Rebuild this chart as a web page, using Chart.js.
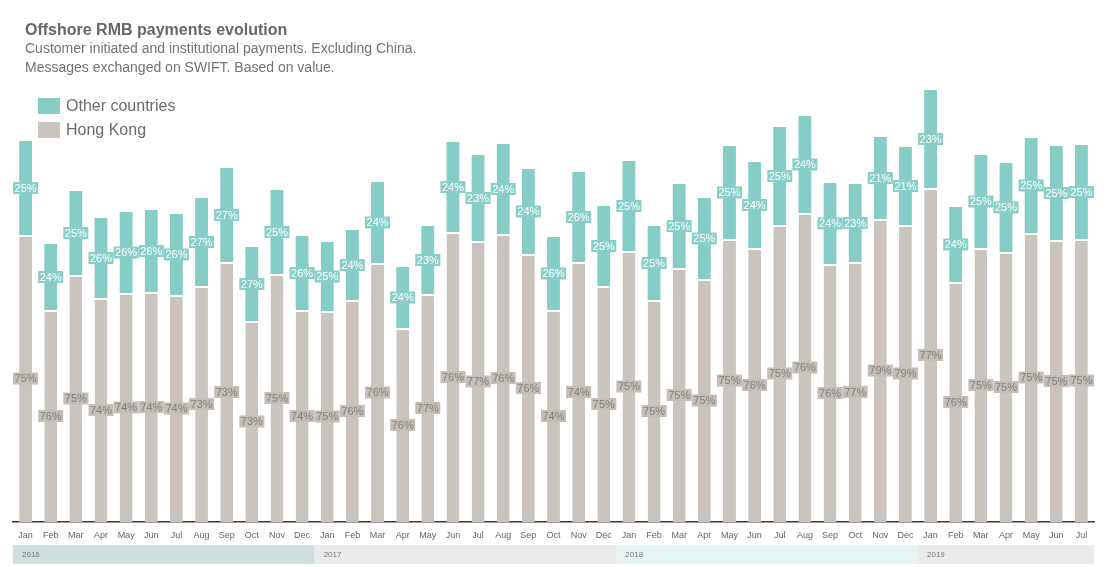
<!DOCTYPE html>
<html>
<head>
<meta charset="utf-8">
<script src="https://cdn.jsdelivr.net/npm/chart.js@4/dist/chart.umd.min.js"></script>
<style>
  html, body { margin: 0; padding: 0; background: #fff; }
  body { width: 1110px; height: 567px; position: relative; overflow: hidden; font-family: "Liberation Sans", Arial, sans-serif; }
  #wrap { position: absolute; left: 0; top: 0; width: 1110px; height: 567px; }
  .title { position: absolute; left: 25px; top: 21px; font-size: 16px; font-weight: bold; color: #6b6661; white-space: nowrap; }
  .sub { position: absolute; left: 25px; font-size: 14px; color: #77726d; white-space: nowrap; }
  .leg { position: absolute; left: 38px; height: 16px; white-space: nowrap; }
  .leg span.sw { position: absolute; left: 0; top: 0; width: 22px; height: 16px; }
  .leg span.tx { position: absolute; left: 28px; top: -1px; font-size: 16px; color: #6f6a66; line-height: 18px; }
</style>
</head>
<body>
<div id="wrap"><canvas id="c" width="1110" height="567"></canvas></div>
<div class="title">Offshore RMB payments evolution</div>
<div class="sub" style="top:40px">Customer initiated and institutional payments. Excluding China.</div>
<div class="sub" style="top:59px">Messages exchanged on SWIFT. Based on value.</div>
<div class="leg" style="top:98px"><span class="sw" style="background:#86cdc6"></span><span class="tx">Other countries</span></div>
<div class="leg" style="top:122px"><span class="sw" style="background:#c9c4be"></span><span class="tx">Hong Kong</span></div>
<script>
const categories = [
  'Jan','Feb','Mar','Apr','May','Jun','Jul','Aug','Sep','Oct','Nov','Dec',
  'Jan','Feb','Mar','Apr','May','Jun','Jul','Aug','Sep','Oct','Nov','Dec',
  'Jan','Feb','Mar','Apr','May','Jun','Jul','Aug','Sep','Oct','Nov','Dec',
  'Jan','Feb','Mar','Apr','May','Jun','Jul'
];
const yearLabels = ['2016','2017','2018','2019'];
const yearMonthCounts = [12, 12, 12, 7];
const seriesNames = ['Hong Kong', 'Other countries'];
const hongKong = [
  287,212,247,224,229,230,227,236,260,201,248,212,
  211,222,259,194,228,290,281,288,268,212,260,236,
  271,222,254,243,283,274,297,309,258,260,303,297,
  334,240,274,270,289,282,283
];
const otherCountries = [
  94,66,84,80,81,82,81,88,94,74,84,74,
  69,70,81,61,68,90,86,90,85,73,90,80,
  90,74,84,81,93,86,98,97,81,78,82,78,
  98,75,93,89,95,94,94
];

const TEAL = '#86cdc6', GREY = '#c9c4be';
const yearBandColors = ['#cfdfdd', '#ebebeb', '#e6f4f3', '#ebebeb'];

const labelPlugin = {
  id: 'segLabels',
  afterDatasetsDraw(chart) {
    const ctx = chart.ctx;
    ctx.save();
    ctx.font = '11px "Liberation Sans", Arial, sans-serif';
    ctx.textAlign = 'center';
    ctx.textBaseline = 'middle';
    const sets = chart.data.datasets;
    const totals = sets[0].data.map((v, i) => v + sets[1].data[i]);
    sets.forEach((ds, di) => {
      const meta = chart.getDatasetMeta(di);
      meta.data.forEach((el, i) => {
        const pct = Math.round(ds.data[i] / totals[i] * 100) + '%';
        const cy = (el.y + el.base) / 2;
        const w = ctx.measureText(pct).width + 3;
        const h = 12;
        ctx.fillStyle = di === 0 ? '#c3beb8' : '#88cfc8';
        ctx.fillRect(el.x - w / 2, cy - h / 2, w, h);
        ctx.fillStyle = di === 0 ? '#86807a' : '#ffffff';
        ctx.fillText(pct, el.x, cy + 0.5);
      });
    });
    ctx.restore();
  }
};

const yearBandPlugin = {
  id: 'yearBands',
  afterDraw(chart) {
    const ctx = chart.ctx;
    const xs = chart.scales.x;
    ctx.save();
    let start = 0;
    yearLabels.forEach((yl, k) => {
      const end = start + yearMonthCounts[k] - 1;
      const x0 = k === 0 ? chart.chartArea.left : xs.getPixelForValue(start - 0.5);
      const x1 = k === yearLabels.length - 1 ? chart.chartArea.right : xs.getPixelForValue(end + 0.5);
      ctx.fillStyle = yearBandColors[k];
      ctx.fillRect(x0, 545, x1 - x0, 19);
      ctx.fillStyle = '#777';
      ctx.font = '8px "Liberation Sans", Arial, sans-serif';
      ctx.textBaseline = 'middle';
      ctx.textAlign = 'left';
      ctx.fillText(yl, x0 + 9, 554.5);
      start = end + 1;
    });
    ctx.restore();
  }
};

new Chart(document.getElementById('c'), {
  type: 'bar',
  data: {
    labels: categories,
    datasets: [
      { label: seriesNames[0], data: hongKong, backgroundColor: GREY, borderColor: '#ffffff',
        borderWidth: { top: 2, left: 0, right: 0, bottom: 0 }, borderSkipped: false,
        barPercentage: 0.51, categoryPercentage: 1 },
      { label: seriesNames[1], data: otherCountries, backgroundColor: TEAL, borderWidth: 0,
        barPercentage: 0.51, categoryPercentage: 1 }
    ]
  },
  options: {
    responsive: false,
    animation: false,
    events: [],
    layout: { padding: { left: 13, right: 16, top: 80, bottom: 0 } },
    plugins: { legend: { display: false }, tooltip: { enabled: false }, title: { display: false } },
    scales: {
      x: {
        stacked: true,
        grid: { display: false, drawTicks: false },
        border: { display: true, color: '#3a3a3a', width: 1.5 },
        ticks: { color: '#666', font: { size: 9, family: '"Liberation Sans", Arial, sans-serif' }, padding: 8, autoSkip: false, maxRotation: 0 },
        afterFit(scale) { scale.height = 45; }
      },
      y: { stacked: true, display: false, min: 0, max: 442 }
    }
  },
  plugins: [labelPlugin, yearBandPlugin]
});
</script>
</body>
</html>
